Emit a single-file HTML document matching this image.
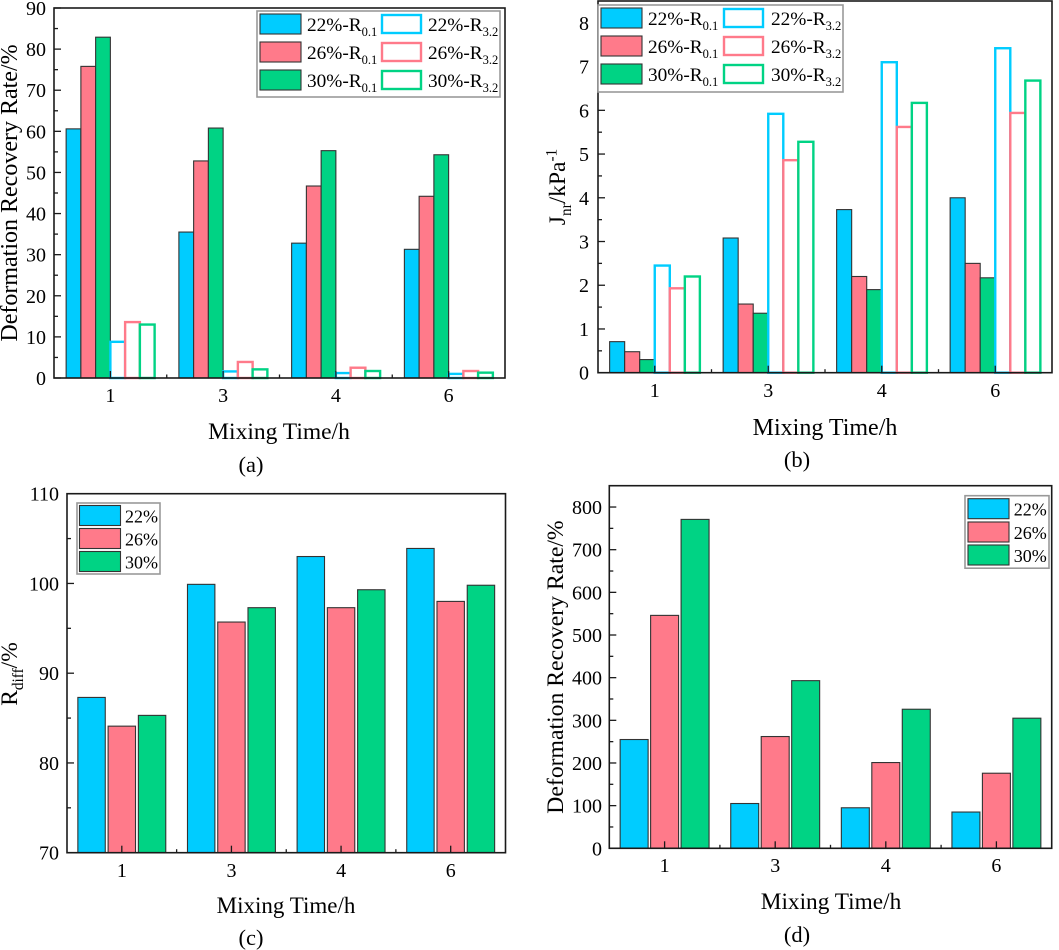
<!DOCTYPE html>
<html lang="en">
<head>
<meta charset="utf-8">
<title>Mixing time bar charts</title>
<style>
html,body{margin:0;padding:0;background:#fff;width:1059px;height:950px;overflow:hidden}
svg{display:block;filter:blur(0.3px)}
text{font-family:"Liberation Serif","Times New Roman",serif;fill:#000}
</style>
</head>
<body>
<svg id="figure" xmlns="http://www.w3.org/2000/svg" width="1059" height="950" viewBox="0 0 1059 950"></svg>
<script>
const categories = ['1', '3', '4', '6'];

const a22R01 = [60.6, 35.5, 32.8, 31.3];
const a26R01 = [75.8, 52.8, 46.7, 44.2];
const a30R01 = [82.9, 60.8, 55.3, 54.3];
const a22R32 = [8.8, 1.6, 1.2, 1.0];
const a26R32 = [13.6, 3.9, 2.5, 1.7];
const a30R32 = [13.0, 2.1, 1.7, 1.3];
const aTicks = [0, 10, 20, 30, 40, 50, 60, 70, 80, 90];

const b22R01 = [0.71, 3.08, 3.73, 4.0];
const b26R01 = [0.48, 1.57, 2.2, 2.5];
const b30R01 = [0.3, 1.36, 1.9, 2.17];
const b22R32 = [2.45, 5.92, 7.1, 7.42];
const b26R32 = [1.93, 4.86, 5.62, 5.94];
const b30R32 = [2.2, 5.28, 6.17, 6.68];
const bTicks = [0, 1, 2, 3, 4, 5, 6, 7, 8];

const c22 = [87.3, 99.9, 103.0, 103.9];
const c26 = [84.1, 95.7, 97.3, 98.0];
const c30 = [85.3, 97.3, 99.3, 99.8];
const cTicks = [70, 80, 90, 100, 110];

const d22 = [255, 105, 95, 85];
const d26 = [546, 262, 201, 176];
const d30 = [771, 393, 326, 305];
const dTicks = [0, 100, 200, 300, 400, 500, 600, 700, 800];

const CYAN = '#00CCFF', PINK = '#FF7A8A', GREEN = '#00D384';
const NS = 'http://www.w3.org/2000/svg';
const figure = document.getElementById('figure');

function shape(parent, tag, name, props) {
  const el = document.createElementNS(NS, tag);
  
  
  for (const k in props) el.setAttribute(k, props[k]);
  parent.appendChild(el);
  return el;
}

function label(parent, name, x, y, parts, size, anchor, rotate) {
  const props = {x: x, y: y, 'font-size': size, 'text-anchor': anchor || 'start'};
  if (rotate) props.transform = 'rotate(-90 ' + x + ' ' + y + ')';
  const el = shape(parent, 'text', name, props);
  let shift = 0;
  parts.forEach(function (p) {
    const ts = document.createElementNS(NS, 'tspan');
    ts.textContent = p[0];
    const target = p[1] === 'sub' ? size * 0.26 : p[1] === 'sup' ? -size * 0.36 : 0;
    if (target !== shift) ts.setAttribute('dy', target - shift);
    shift = target;
    if (p[1]) ts.setAttribute('font-size', size * 0.65);
    el.appendChild(ts);
  });
  return el;
}

function drawPanel(cfg) {
  const g = shape(figure, 'g', 'panel-' + cfg.id, {});
  const band = (cfg.right - cfg.left) / categories.length;
  const yMin = cfg.ticks[0];
  const xScale = function (i) { return cfg.left + (i + 0.5) * band; };
  const yScale = function (v) { return cfg.bottom - (v - yMin) / (cfg.yMax - yMin) * (cfg.bottom - cfg.top); };
  const n = cfg.series.length;
  const step = band * cfg.stepRatio;
  const width = band * cfg.widthRatio;

  cfg.series.forEach(function (ser, s) {
    ser.values.forEach(function (v, i) {
      const cx = xScale(i) + (s - (n - 1) / 2) * step;
      const top = yScale(v);
      shape(g, 'rect', 'bar-' + ser.key + '-' + categories[i] + 'h', {
        x: cx - width / 2, y: top, width: width, height: cfg.bottom - top,
        fill: ser.outline ? '#fff' : ser.color,
        stroke: ser.outline ? ser.color : '#333',
        'stroke-width': ser.outline ? 2.4 : 1.1
      });
    });
  });

  shape(g, 'rect', 'plot-frame', {
    x: cfg.left, y: cfg.top, width: cfg.right - cfg.left, height: cfg.bottom - cfg.top,
    fill: 'none', stroke: '#1a1a1a', 'stroke-width': 1.6
  });

  categories.forEach(function (c, i) {
    const x = xScale(i);
    shape(g, 'line', 'x-tick-' + c, {x1: x, x2: x, y1: cfg.bottom, y2: cfg.bottom - 7, stroke: '#1a1a1a', 'stroke-width': 1.3});
    label(g, 'x-tick-label-' + c, x, cfg.xLabelY, [[c]], 20, 'middle');
    if (i < categories.length - 1) {
      shape(g, 'line', 'x-minor-tick', {x1: x + band / 2, x2: x + band / 2, y1: cfg.bottom, y2: cfg.bottom - 3.5, stroke: '#1a1a1a', 'stroke-width': 1.3});
    }
  });

  cfg.ticks.forEach(function (t, i) {
    const y = yScale(t);
    shape(g, 'line', 'y-tick-' + t, {x1: cfg.left, x2: cfg.left + 7, y1: y, y2: y, stroke: '#1a1a1a', 'stroke-width': 1.3});
    label(g, 'y-tick-label-' + t, cfg.yLabelX, y + 7, [[String(t)]], 20, 'end');
    const delta = cfg.ticks[1] - cfg.ticks[0];
    const mid = t + delta / 2;
    if (mid < cfg.yMax) {
      shape(g, 'line', 'y-minor-tick', {x1: cfg.left, x2: cfg.left + 4, y1: yScale(mid), y2: yScale(mid), stroke: '#1a1a1a', 'stroke-width': 1.3});
    }
  });

  label(g, 'x-axis-title', cfg.xTitleX, cfg.xTitleY, [['Mixing Time/h']], cfg.xTitleSize, 'middle');
  label(g, 'y-axis-title', cfg.yTitleX, cfg.yTitleY, cfg.yTitle, cfg.yTitleSize, 'middle', true);
  label(g, 'panel-caption', cfg.capX, cfg.capY, [[cfg.caption]], 22.5, 'middle');

  const lg = shape(g, 'g', 'legend', {});
  const L = cfg.legend;
  shape(lg, 'rect', 'legend-box', {x: L.x, y: L.y, width: L.w, height: L.h, fill: '#fff', stroke: '#999', 'stroke-width': 1.6});
  L.items.forEach(function (it) {
    const ser = cfg.series[it.s];
    const entry = shape(lg, 'g', 'legend-entry-' + ser.key, {});
    shape(entry, 'rect', 'legend-swatch', {
      x: it.x + (ser.outline ? 1 : 0), y: it.y + (ser.outline ? 1 : 0),
      width: L.sw - (ser.outline ? 2 : 0), height: L.sh - (ser.outline ? 2 : 0),
      fill: ser.outline ? '#fff' : ser.color,
      stroke: ser.outline ? ser.color : '#333',
      'stroke-width': ser.outline ? 2.4 : 1.1
    });
    label(entry, 'legend-label', it.tx, it.y + L.sh / 2 + 7, it.text, L.font);
  });
}

function leg6(p, suffix) { return [[p + '%-R'], [suffix, 'sub']]; }

drawPanel({
  id: 'a', left: 54, right: 505, top: 8, bottom: 378, yMax: 90, ticks: aTicks,
  stepRatio: 0.1308, widthRatio: 0.1308,
  series: [
    {key: '22-r01', values: a22R01, color: CYAN},
    {key: '26-r01', values: a26R01, color: PINK},
    {key: '30-r01', values: a30R01, color: GREEN},
    {key: '22-r32', values: a22R32, color: CYAN, outline: true},
    {key: '26-r32', values: a26R32, color: PINK, outline: true},
    {key: '30-r32', values: a30R32, color: GREEN, outline: true}
  ],
  xLabelY: 402, yLabelX: 46, xTitleX: 279, xTitleY: 439, xTitleSize: 23.5,
  yTitleX: 17, yTitleY: 193, yTitleSize: 24,
  yTitle: [['Deformation Recovery Rate/%']],
  capX: 251, capY: 472, caption: '(a)',
  legend: {x: 257, y: 11, w: 243, h: 86, sw: 41, sh: 20, font: 19.3, items: [
    {s: 0, x: 260, y: 14, tx: 307, text: leg6('22', '0.1')},
    {s: 1, x: 260, y: 42, tx: 307, text: leg6('26', '0.1')},
    {s: 2, x: 260, y: 70, tx: 307, text: leg6('30', '0.1')},
    {s: 3, x: 381, y: 14, tx: 428, text: leg6('22', '3.2')},
    {s: 4, x: 381, y: 42, tx: 428, text: leg6('26', '3.2')},
    {s: 5, x: 381, y: 70, tx: 428, text: leg6('30', '3.2')}
  ]}
});

drawPanel({
  id: 'b', left: 598, right: 1052, top: 1, bottom: 372.7, yMax: 8.5, ticks: bTicks,
  stepRatio: 0.1325, widthRatio: 0.1325,
  series: [
    {key: '22-r01', values: b22R01, color: CYAN},
    {key: '26-r01', values: b26R01, color: PINK},
    {key: '30-r01', values: b30R01, color: GREEN},
    {key: '22-r32', values: b22R32, color: CYAN, outline: true},
    {key: '26-r32', values: b26R32, color: PINK, outline: true},
    {key: '30-r32', values: b30R32, color: GREEN, outline: true}
  ],
  xLabelY: 397, yLabelX: 589, xTitleX: 825, xTitleY: 435, xTitleSize: 24,
  yTitleX: 565, yTitleY: 187, yTitleSize: 23.5,
  yTitle: [['J'], ['nr', 'sub'], ['/kPa'], ['-1', 'sup']],
  capX: 797, capY: 467, caption: '(b)',
  legend: {x: 598, y: 5, w: 245, h: 87, sw: 41, sh: 20, font: 19.3, items: [
    {s: 0, x: 601, y: 8, tx: 648, text: leg6('22', '0.1')},
    {s: 1, x: 601, y: 36, tx: 648, text: leg6('26', '0.1')},
    {s: 2, x: 601, y: 64, tx: 648, text: leg6('30', '0.1')},
    {s: 3, x: 723, y: 8, tx: 771, text: leg6('22', '3.2')},
    {s: 4, x: 723, y: 36, tx: 771, text: leg6('26', '3.2')},
    {s: 5, x: 723, y: 64, tx: 771, text: leg6('30', '3.2')}
  ]}
});

drawPanel({
  id: 'c', left: 67, right: 505.5, top: 493.7, bottom: 852.7, yMax: 110, ticks: cTicks,
  stepRatio: 0.276, widthRatio: 0.25,
  series: [
    {key: '22', values: c22, color: CYAN},
    {key: '26', values: c26, color: PINK},
    {key: '30', values: c30, color: GREEN}
  ],
  xLabelY: 877, yLabelX: 59, xTitleX: 286, xTitleY: 913, xTitleSize: 23,
  yTitleX: 17, yTitleY: 674, yTitleSize: 23.5,
  yTitle: [['R'], ['diff', 'sub'], ['/%']],
  capX: 251, capY: 945, caption: '(c)',
  legend: {x: 77, y: 503, w: 83, h: 71, sw: 41, sh: 20, font: 18, items: [
    {s: 0, x: 79.5, y: 505.5, tx: 125, text: [['22%']]},
    {s: 1, x: 79.5, y: 528.5, tx: 125, text: [['26%']]},
    {s: 2, x: 79.5, y: 551.5, tx: 125, text: [['30%']]}
  ]}
});

drawPanel({
  id: 'd', left: 609.3, right: 1051.7, top: 485.7, bottom: 848.3, yMax: 850, ticks: dTicks,
  stepRatio: 0.2755, widthRatio: 0.253,
  series: [
    {key: '22', values: d22, color: CYAN},
    {key: '26', values: d26, color: PINK},
    {key: '30', values: d30, color: GREEN}
  ],
  xLabelY: 872, yLabelX: 602, xTitleX: 831, xTitleY: 909, xTitleSize: 23.3,
  yTitleX: 563, yTitleY: 667, yTitleSize: 23.7,
  yTitle: [['Deformation Recovery Rate/%']],
  capX: 797, capY: 942, caption: '(d)',
  legend: {x: 965, y: 495.7, w: 84, h: 72.5, sw: 41, sh: 20, font: 18, items: [
    {s: 0, x: 968, y: 498.7, tx: 1013.7, text: [['22%']]},
    {s: 1, x: 968, y: 522, tx: 1013.7, text: [['26%']]},
    {s: 2, x: 968, y: 545, tx: 1013.7, text: [['30%']]}
  ]}
});
</script>
</body>
</html>
